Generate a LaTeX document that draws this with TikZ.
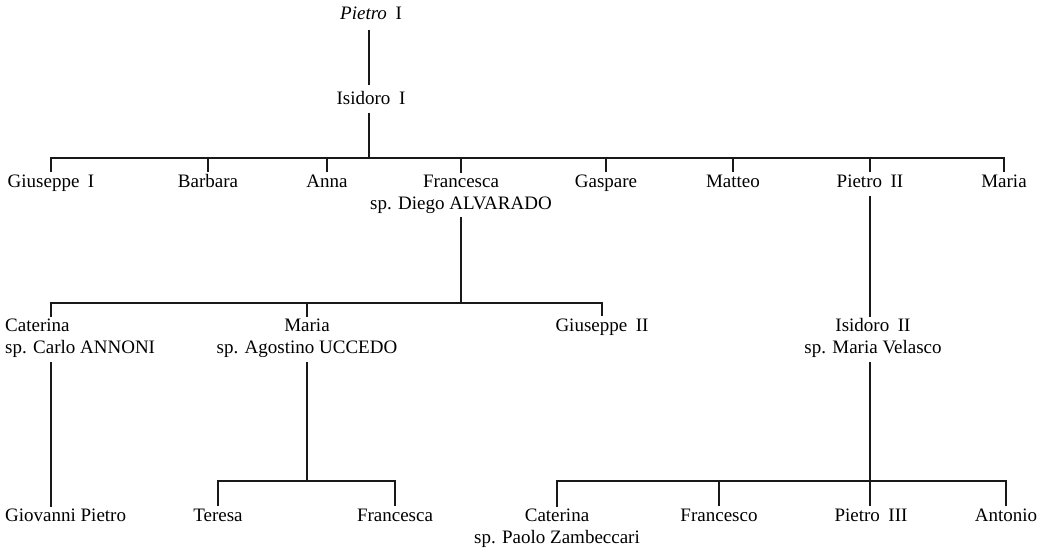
\documentclass[tikz,border=0pt]{standalone}
\usepackage{fontspec}
\setmainfont{Liberation Serif}
\newcommand{\nsp}{\hspace{0.45em}}
\begin{document}
\begin{tikzpicture}[x=1pt,y=-1pt,
  person/.style={font=\fontsize{19}{22}\selectfont, text height=13pt, text depth=4pt, inner xsep=2pt, inner ysep=2pt},
  couple/.style={font=\fontsize{19}{22}\selectfont, align=center, inner sep=2pt, anchor=north},
  link/.style={line width=1.1pt, black!90}]
\useasboundingbox (0,0) rectangle (1054,550);
% generation 1-2
\node[person] (p1) at (371,15) {\textit{Pietro}\nsp I};
\node[person] (i1) at (371,100) {Isidoro\nsp I};
% generation 3
\node[person] (gi1) at (51,183) {Giuseppe\nsp I};
\node[person] (ba) at (208,183) {Barbara};
\node[person] (an) at (327,183) {Anna};
\node[couple] (fr) at (461,172.5) {Francesca\\sp. Diego ALVARADO};
\node[person] (ga) at (606,183) {Gaspare};
\node[person] (mt) at (733,183) {Matteo};
\node[person] (p2) at (870,183) {Pietro\nsp II};
\node[person] (ma) at (1004,183) {Maria};
% generation 4
\node[couple, anchor=north west, align=left] (ca) at (3,316.5) {Caterina\\sp. Carlo ANNONI};
\node[couple] (mu) at (307,316.5) {Maria\\sp. Agostino UCCEDO};
\node[person] (g2) at (602,327) {Giuseppe\nsp II};
\node[couple] (i2) at (873,316.5) {Isidoro\nsp II\\sp. Maria Velasco};
% generation 5
\node[person, anchor=north west] (gp) at (3,506.5) {Giovanni Pietro};
\node[person] (te) at (218,517) {Teresa};
\node[person] (fc) at (395,517) {Francesca};
\node[couple] (ct) at (557,506.5) {Caterina\\sp. Paolo Zambeccari};
\node[person] (fo) at (719,517) {Francesco};
\node[person] (p3) at (871,517) {Pietro\nsp III};
\node[person] (at) at (1006,517) {Antonio};
% bars
\coordinate (b1) at (369,158);
\coordinate (b2) at (461,303);
\coordinate (b3) at (307,481);
\coordinate (b4) at (870,481);
\coordinate (caX) at (51,0);
% connectors
\draw[link, shorten <=4pt, shorten >=4pt] (p1.south -| b1) -- (i1.north -| b1);
\draw[link, shorten <=2pt] (i1.south -| b1) -- (b1);
\draw[link] (gi1.north) |- (b1) -| (ma.north);
\draw[link] (ba.north) -- (ba.north |- b1);
\draw[link] (an.north) -- (an.north |- b1);
\draw[link] (fr.north) -- (fr.north |- b1);
\draw[link] (ga.north) -- (ga.north |- b1);
\draw[link] (mt.north) -- (mt.north |- b1);
\draw[link] (p2.north) -- (p2.north |- b1);
% Francesca's children
\draw[link, shorten <=2pt] (fr.south -| b2) -- (b2);
\draw[link] (caX |- ca.north) |- (b2) -| (g2.north);
\draw[link] (mu.north) -- (mu.north |- b2);
% Pietro II -> Isidoro II
\draw[link, shorten <=2pt] (p2.south -| b4) -- (i2.north -| b4);
% Caterina -> Giovanni Pietro
\draw[link, shorten <=2pt] (caX |- ca.south) -- (caX |- gp.north);
% Maria -> Teresa, Francesca
\draw[link, shorten <=2pt] (mu.south -| b3) -- (b3);
\draw[link] (te.north) |- (b3) -| (fc.north);
% Isidoro II -> children
\draw[link, shorten <=2pt] (i2.south -| b4) -- (p3.north -| b4);
\draw[link] (ct.north) |- (b4) -| (at.north);
\draw[link] (fo.north) -- (fo.north |- b4);
\end{tikzpicture}
\end{document}
